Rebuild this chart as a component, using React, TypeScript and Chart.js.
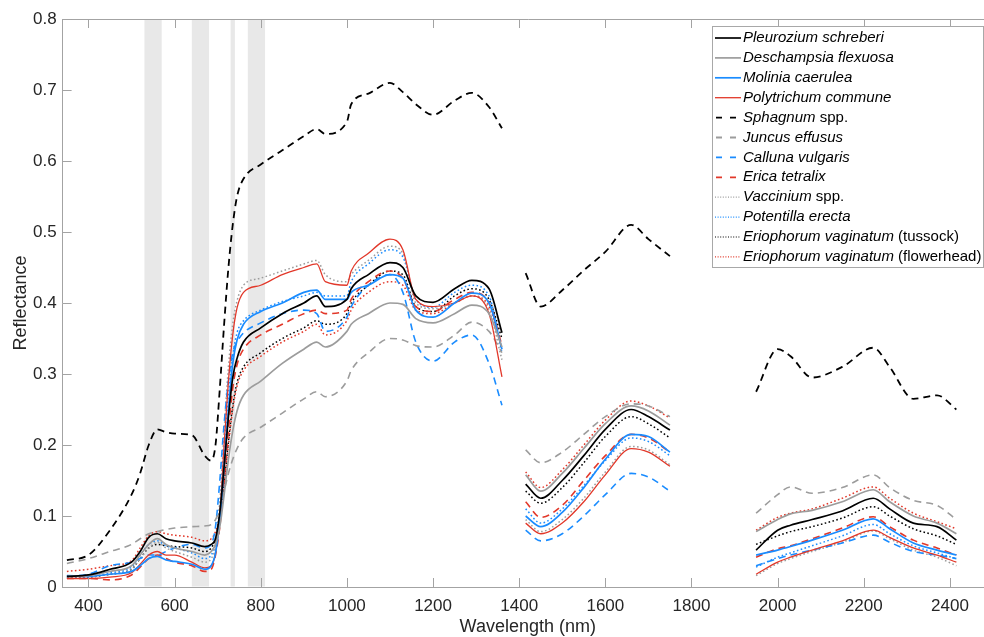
import React, { useEffect, useRef } from 'react';
import { Chart, registerables } from 'chart.js';

Chart.register(...registerables);

// Wavelength grids (nm) of the three measured segments
const W1 = [350, 400, 450, 500, 520, 540, 560, 580, 600, 640, 670, 685, 695, 705, 715, 725, 735, 745, 760, 800, 850, 900, 930, 950, 1000, 1010, 1050, 1100, 1130, 1160, 1200, 1250, 1290, 1330, 1360];
const W2 = [1415, 1450, 1500, 1550, 1600, 1660, 1700, 1750];
const W3 = [1950, 2000, 2030, 2080, 2150, 2222, 2260, 2315, 2370, 2415];

const X_TICKS = [400, 600, 800, 1000, 1200, 1400, 1600, 1800, 2000, 2200, 2400];
const Y_TICKS = [0, 0.1, 0.2, 0.3, 0.4, 0.5, 0.6, 0.7, 0.8];
const Y_LABELS = ['0', '0.1', '0.2', '0.3', '0.4', '0.5', '0.6', '0.7', '0.8'];
const BANDS = [[530, 570], [640, 680], [730, 740], [770, 810]];

// Reflectance values per species
const pleurozium1 = [0.015, 0.017, 0.025, 0.035, 0.05, 0.07, 0.075, 0.068, 0.065, 0.062, 0.057, 0.06, 0.068, 0.105, 0.17, 0.24, 0.295, 0.322, 0.345, 0.365, 0.385, 0.4, 0.41, 0.395, 0.405, 0.42, 0.44, 0.457, 0.45, 0.41, 0.401, 0.42, 0.432, 0.42, 0.358];
const pleurozium2 = [0.145, 0.125, 0.15, 0.185, 0.222, 0.25, 0.24, 0.221];
const pleurozium3 = [0.052, 0.08, 0.087, 0.095, 0.107, 0.125, 0.11, 0.09, 0.085, 0.066];

const deschampsia1 = [0.015, 0.016, 0.022, 0.03, 0.045, 0.06, 0.068, 0.06, 0.055, 0.05, 0.045, 0.05, 0.06, 0.085, 0.13, 0.18, 0.22, 0.248, 0.27, 0.29, 0.315, 0.335, 0.345, 0.338, 0.36, 0.37, 0.385, 0.4, 0.398, 0.378, 0.372, 0.385, 0.397, 0.385, 0.338];
const deschampsia2 = [0.158, 0.135, 0.16, 0.195, 0.23, 0.255, 0.248, 0.228];
const deschampsia3 = [0.078, 0.095, 0.103, 0.108, 0.12, 0.137, 0.12, 0.1, 0.09, 0.075];

const molinia1 = [0.016, 0.015, 0.018, 0.022, 0.03, 0.04, 0.043, 0.038, 0.036, 0.032, 0.025, 0.03, 0.048, 0.095, 0.17, 0.25, 0.315, 0.348, 0.37, 0.388, 0.4, 0.415, 0.418, 0.405, 0.405, 0.415, 0.425, 0.44, 0.435, 0.39, 0.38, 0.4, 0.414, 0.4, 0.335];
const molinia2 = [0.1, 0.085, 0.105, 0.14, 0.18, 0.215, 0.212, 0.19];
const molinia3 = [0.045, 0.052, 0.057, 0.066, 0.08, 0.096, 0.082, 0.062, 0.052, 0.045];

const polytrichum1 = [0.012, 0.012, 0.014, 0.02, 0.032, 0.045, 0.05, 0.045, 0.045, 0.035, 0.027, 0.03, 0.048, 0.1, 0.2, 0.29, 0.355, 0.393, 0.415, 0.425, 0.44, 0.45, 0.455, 0.43, 0.425, 0.445, 0.47, 0.49, 0.475, 0.405, 0.395, 0.4, 0.41, 0.385, 0.296];
const polytrichum2 = [0.09, 0.075, 0.09, 0.12, 0.158, 0.195, 0.19, 0.17];
const polytrichum3 = [0.018, 0.035, 0.042, 0.052, 0.065, 0.08, 0.07, 0.055, 0.045, 0.035];

const sphagnum1 = [0.038, 0.045, 0.08, 0.13, 0.16, 0.2, 0.222, 0.218, 0.216, 0.214, 0.185, 0.178, 0.2, 0.28, 0.37, 0.45, 0.51, 0.55, 0.575, 0.595, 0.615, 0.635, 0.645, 0.638, 0.655, 0.68, 0.695, 0.71, 0.697, 0.68, 0.665, 0.685, 0.696, 0.676, 0.646];
const sphagnum2 = [0.442, 0.395, 0.418, 0.446, 0.472, 0.51, 0.49, 0.466];
const sphagnum3 = [0.275, 0.335, 0.325, 0.295, 0.31, 0.337, 0.31, 0.265, 0.27, 0.25];

const juncus1 = [0.033, 0.04, 0.05, 0.06, 0.068, 0.075, 0.078, 0.081, 0.083, 0.085, 0.086, 0.088, 0.095, 0.11, 0.135, 0.16, 0.18, 0.195, 0.21, 0.225, 0.245, 0.265, 0.275, 0.268, 0.29, 0.305, 0.33, 0.35, 0.348, 0.34, 0.338, 0.355, 0.373, 0.36, 0.33];
const juncus2 = [0.193, 0.175, 0.19, 0.215, 0.24, 0.258, 0.255, 0.24];
const juncus3 = [0.104, 0.13, 0.141, 0.132, 0.14, 0.158, 0.14, 0.122, 0.115, 0.095];

const calluna1 = [0.015, 0.018, 0.03, 0.035, 0.04, 0.045, 0.045, 0.05, 0.055, 0.06, 0.055, 0.06, 0.085, 0.15, 0.23, 0.29, 0.33, 0.345, 0.358, 0.372, 0.385, 0.39, 0.385, 0.36, 0.38, 0.395, 0.425, 0.44, 0.415, 0.345, 0.318, 0.345, 0.355, 0.315, 0.256];
const calluna2 = [0.08, 0.065, 0.075, 0.1, 0.13, 0.16, 0.155, 0.135];
const calluna3 = [0.03, 0.04, 0.045, 0.052, 0.062, 0.073, 0.063, 0.05, 0.045, 0.04];

const erica1 = [0.012, 0.012, 0.01, 0.017, 0.028, 0.04, 0.045, 0.04, 0.035, 0.03, 0.022, 0.025, 0.045, 0.085, 0.15, 0.22, 0.28, 0.313, 0.335, 0.355, 0.37, 0.385, 0.39, 0.385, 0.39, 0.405, 0.43, 0.445, 0.435, 0.395, 0.388, 0.405, 0.415, 0.4, 0.34];
const erica2 = [0.12, 0.098, 0.115, 0.15, 0.185, 0.215, 0.21, 0.19];
const erica3 = [0.042, 0.054, 0.058, 0.068, 0.083, 0.099, 0.085, 0.066, 0.055, 0.045];

const vaccinium1 = [0.014, 0.015, 0.018, 0.025, 0.04, 0.055, 0.063, 0.055, 0.05, 0.042, 0.035, 0.04, 0.058, 0.12, 0.22, 0.31, 0.37, 0.403, 0.425, 0.435, 0.445, 0.455, 0.46, 0.44, 0.43, 0.44, 0.46, 0.48, 0.47, 0.4, 0.392, 0.4, 0.41, 0.39, 0.32];
const vaccinium2 = [0.095, 0.078, 0.095, 0.125, 0.162, 0.198, 0.193, 0.172];
const vaccinium3 = [0.016, 0.033, 0.04, 0.05, 0.063, 0.079, 0.068, 0.052, 0.042, 0.03];

const potentilla1 = [0.014, 0.014, 0.02, 0.028, 0.045, 0.06, 0.065, 0.058, 0.055, 0.048, 0.04, 0.045, 0.063, 0.115, 0.19, 0.27, 0.325, 0.358, 0.375, 0.39, 0.402, 0.41, 0.415, 0.41, 0.41, 0.43, 0.455, 0.475, 0.465, 0.405, 0.394, 0.415, 0.425, 0.41, 0.33];
const potentilla2 = [0.11, 0.09, 0.11, 0.143, 0.178, 0.21, 0.205, 0.185];
const potentilla3 = [0.028, 0.042, 0.048, 0.058, 0.072, 0.088, 0.075, 0.058, 0.048, 0.04];

const tussock1 = [0.013, 0.014, 0.018, 0.025, 0.04, 0.055, 0.06, 0.058, 0.057, 0.055, 0.05, 0.055, 0.068, 0.095, 0.145, 0.205, 0.255, 0.288, 0.31, 0.33, 0.35, 0.365, 0.375, 0.37, 0.385, 0.4, 0.425, 0.445, 0.44, 0.395, 0.388, 0.41, 0.42, 0.405, 0.35];
const tussock2 = [0.135, 0.118, 0.14, 0.175, 0.212, 0.24, 0.23, 0.21];
const tussock3 = [0.06, 0.072, 0.078, 0.085, 0.097, 0.113, 0.1, 0.082, 0.072, 0.06];

const flowerhead1 = [0.022, 0.025, 0.03, 0.037, 0.055, 0.072, 0.078, 0.075, 0.073, 0.07, 0.065, 0.068, 0.078, 0.1, 0.145, 0.2, 0.25, 0.283, 0.305, 0.325, 0.345, 0.36, 0.37, 0.355, 0.375, 0.39, 0.415, 0.43, 0.425, 0.39, 0.385, 0.4, 0.41, 0.395, 0.335];
const flowerhead2 = [0.162, 0.14, 0.165, 0.2, 0.235, 0.262, 0.255, 0.238];
const flowerhead3 = [0.08, 0.098, 0.104, 0.11, 0.125, 0.141, 0.125, 0.104, 0.092, 0.082];

const BLACK = '#000000';
const GREY = '#9c9c9c';
const BLUE = '#1a8cff';
const RED = '#e2382a';

const SOLID: number[] = [];
const DASH = [7, 5];
const DOT = [1.6, 2.4];

type Part = { t: string; i: boolean };
type Series = { parts: Part[]; color: string; dash: number[]; width: number; s1: number[]; s2: number[]; s3: number[] };

const SERIES: Series[] = [
  { parts: [{ t: 'Pleurozium schreberi', i: true }], color: BLACK, dash: SOLID, width: 1.7, s1: pleurozium1, s2: pleurozium2, s3: pleurozium3 },
  { parts: [{ t: 'Deschampsia flexuosa', i: true }], color: GREY, dash: SOLID, width: 1.7, s1: deschampsia1, s2: deschampsia2, s3: deschampsia3 },
  { parts: [{ t: 'Molinia caerulea', i: true }], color: BLUE, dash: SOLID, width: 1.7, s1: molinia1, s2: molinia2, s3: molinia3 },
  { parts: [{ t: 'Polytrichum commune', i: true }], color: RED, dash: SOLID, width: 1.3, s1: polytrichum1, s2: polytrichum2, s3: polytrichum3 },
  { parts: [{ t: 'Sphagnum', i: true }, { t: ' spp.', i: false }], color: BLACK, dash: DASH, width: 1.8, s1: sphagnum1, s2: sphagnum2, s3: sphagnum3 },
  { parts: [{ t: 'Juncus effusus', i: true }], color: GREY, dash: DASH, width: 1.6, s1: juncus1, s2: juncus2, s3: juncus3 },
  { parts: [{ t: 'Calluna vulgaris', i: true }], color: BLUE, dash: DASH, width: 1.6, s1: calluna1, s2: calluna2, s3: calluna3 },
  { parts: [{ t: 'Erica tetralix', i: true }], color: RED, dash: DASH, width: 1.6, s1: erica1, s2: erica2, s3: erica3 },
  { parts: [{ t: 'Vaccinium', i: true }, { t: ' spp.', i: false }], color: GREY, dash: DOT, width: 1.5, s1: vaccinium1, s2: vaccinium2, s3: vaccinium3 },
  { parts: [{ t: 'Potentilla erecta', i: true }], color: BLUE, dash: DOT, width: 1.5, s1: potentilla1, s2: potentilla2, s3: potentilla3 },
  { parts: [{ t: 'Eriophorum vaginatum', i: true }, { t: ' (tussock)', i: false }], color: BLACK, dash: DOT, width: 1.5, s1: tussock1, s2: tussock2, s3: tussock3 },
  { parts: [{ t: 'Eriophorum vaginatum', i: true }, { t: ' (flowerhead)', i: false }], color: RED, dash: DOT, width: 1.5, s1: flowerhead1, s2: flowerhead2, s3: flowerhead3 },
];

const FONT = '"Liberation Sans", Arial, sans-serif';
const AXIS_COLOR = '#a3a3a3';
const TEXT_COLOR = '#262626';

function toPoints(s: Series) {
  const pts: { x: number; y: number | null }[] = [];
  W1.forEach((x, i) => pts.push({ x, y: s.s1[i] }));
  pts.push({ x: 1390, y: null });
  W2.forEach((x, i) => pts.push({ x, y: s.s2[i] }));
  pts.push({ x: 1850, y: null });
  W3.forEach((x, i) => pts.push({ x, y: s.s3[i] }));
  return pts;
}

const decorPlugin = {
  id: 'decor',
  beforeDatasetsDraw(chart: any) {
    const { ctx, chartArea: a, scales } = chart;
    const x = scales.x;
    ctx.save();
    ctx.fillStyle = '#e8e8e8';
    for (const [s, e] of BANDS) {
      const x0 = x.getPixelForValue(s);
      const x1 = x.getPixelForValue(e);
      ctx.fillRect(x0, a.top + 1, x1 - x0, a.bottom - a.top - 1.5);
    }
    ctx.restore();
  },
  afterDatasetsDraw(chart: any) {
    const { ctx, chartArea: a, scales } = chart;
    const x = scales.x;
    const y = scales.y;
    ctx.save();
    // frame
    ctx.strokeStyle = AXIS_COLOR;
    ctx.lineWidth = 1;
    ctx.setLineDash([]);
    ctx.beginPath();
    ctx.moveTo(Math.round(a.left) + 0.5, a.top + 0.5);
    ctx.lineTo(a.right, a.top + 0.5);
    ctx.moveTo(a.right - 0.5, a.top);
    ctx.lineTo(a.right - 0.5, a.bottom);
    // ticks
    const TL = 9;
    for (const v of X_TICKS) {
      const px = Math.round(x.getPixelForValue(v)) + 0.5;
      ctx.moveTo(px, a.bottom);
      ctx.lineTo(px, a.bottom - TL);
      ctx.moveTo(px, a.top);
      ctx.lineTo(px, a.top + TL);
    }
    for (const v of Y_TICKS) {
      const py = Math.round(y.getPixelForValue(v)) + 0.5;
      ctx.moveTo(a.left, py);
      ctx.lineTo(a.left + TL, py);
      ctx.moveTo(a.right, py);
      ctx.lineTo(a.right - TL, py);
    }
    ctx.stroke();

    // tick labels
    ctx.fillStyle = TEXT_COLOR;
    ctx.font = `17px ${FONT}`;
    ctx.textBaseline = 'middle';
    ctx.textAlign = 'right';
    Y_TICKS.forEach((v, i) => {
      ctx.fillText(Y_LABELS[i], a.left - 6, y.getPixelForValue(v));
    });
    ctx.textAlign = 'center';
    X_TICKS.forEach((v) => {
      ctx.fillText(String(v), x.getPixelForValue(v), a.bottom + 19);
    });

    // axis titles
    ctx.font = `18px ${FONT}`;
    ctx.textAlign = 'center';
    ctx.textBaseline = 'middle';
    ctx.fillText('Wavelength (nm)', (a.left + a.right) / 2, 627);
    ctx.save();
    ctx.translate(21, (a.top + a.bottom) / 2);
    ctx.rotate(-Math.PI / 2);
    ctx.fillText('Reflectance', 0, 0);
    ctx.restore();

    // legend
    const L = 712.5, T = 26.5, R = 983.5, B = 267.5;
    ctx.fillStyle = '#ffffff';
    ctx.fillRect(L, T, R - L, B - T);
    ctx.strokeStyle = '#a8a8a8';
    ctx.lineWidth = 1;
    ctx.strokeRect(L, T, R - L, B - T);
    ctx.textAlign = 'left';
    ctx.textBaseline = 'middle';
    SERIES.forEach((s, i) => {
      const cy = 38 + i * 19.9;
      ctx.strokeStyle = s.color;
      if (s.dash === DASH) {
        ctx.lineWidth = 1.8;
        ctx.setLineDash([6, 8]);
        ctx.beginPath();
        ctx.moveTo(716, cy);
        ctx.lineTo(738, cy);
        ctx.stroke();
      } else if (s.dash === DOT) {
        ctx.lineWidth = 1.2;
        ctx.setLineDash([1, 1.6]);
        ctx.beginPath();
        ctx.moveTo(715, cy);
        ctx.lineTo(741, cy);
        ctx.stroke();
      } else {
        ctx.lineWidth = s.width;
        ctx.setLineDash([]);
        ctx.beginPath();
        ctx.moveTo(715, cy);
        ctx.lineTo(741, cy);
        ctx.stroke();
      }
      ctx.setLineDash([]);
      ctx.fillStyle = '#000000';
      let tx = 743;
      for (const p of s.parts) {
        ctx.font = `${p.i ? 'italic ' : ''}15px ${FONT}`;
        ctx.fillText(p.t, tx, cy);
        tx += ctx.measureText(p.t).width;
      }
    });
    ctx.restore();
  },
};

export default function App() {
  const ref = useRef<HTMLCanvasElement | null>(null);

  useEffect(() => {
    if (!ref.current) return;
    const chart = new Chart(ref.current, {
      type: 'line',
      data: {
        datasets: SERIES.map((s) => ({
          label: s.parts.map((p) => p.t).join(''),
          data: toPoints(s),
          borderColor: s.color,
          backgroundColor: s.color,
          borderWidth: s.width,
          borderDash: s.dash,
          pointRadius: 0,
          pointHoverRadius: 0,
          fill: false,
          spanGaps: false,
          cubicInterpolationMode: 'monotone' as const,
        })),
      },
      options: {
        animation: false,
        responsive: false,
        events: [],
        layout: { autoPadding: false, padding: { left: 0, top: 19, right: 7, bottom: 0 } },
        plugins: { legend: { display: false }, tooltip: { enabled: false } },
        scales: {
          x: {
            type: 'linear',
            min: 340,
            max: 2500,
            afterBuildTicks: (scale: any) => {
              scale.ticks = X_TICKS.map((value) => ({ value }));
            },
            afterFit: (scale: any) => {
              scale.height = 50;
            },
            grid: { display: false, drawTicks: false },
            border: { display: true, color: AXIS_COLOR, width: 1 },
            ticks: { display: false },
          },
          y: {
            type: 'linear',
            min: 0,
            max: 0.8,
            afterBuildTicks: (scale: any) => {
              scale.ticks = Y_TICKS.map((value) => ({ value }));
            },
            afterFit: (scale: any) => {
              scale.width = 62.6;
            },
            grid: { display: false, drawTicks: false },
            border: { display: true, color: AXIS_COLOR, width: 1 },
            ticks: { display: false },
          },
        },
      },
      plugins: [decorPlugin],
    });
    return () => chart.destroy();
  }, []);

  return (
    <div style={{ position: 'absolute', left: 0, top: 0, width: 984, height: 637, overflow: 'hidden', background: '#ffffff' }}>
      <canvas ref={ref} width={1000} height={637} style={{ width: 1000, height: 637, display: 'block' }} />
    </div>
  );
}
